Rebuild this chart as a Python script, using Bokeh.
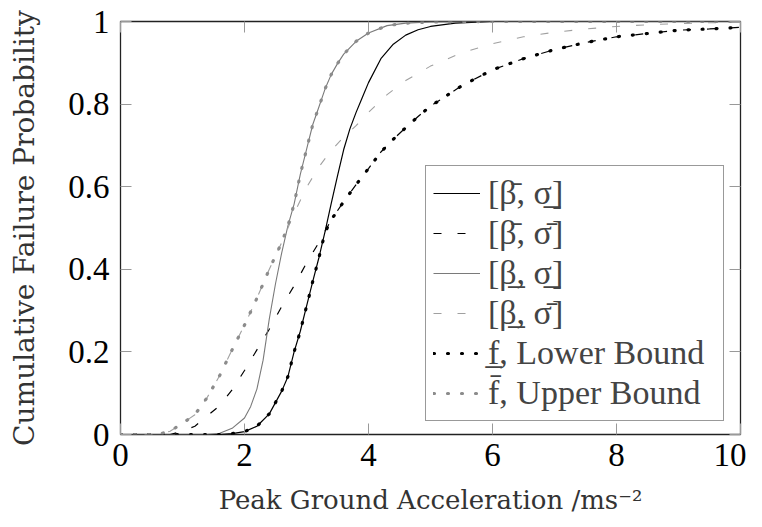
from bokeh.plotting import figure
from bokeh.models import Range1d, LinearAxis, FixedTicker, Legend, LegendItem
from bokeh.embed import file_html
from bokeh.resources import INLINE

# ---- data ----
bs_x = [0, 1.6, 1.8, 2.0, 2.2, 2.4, 2.6, 2.7, 2.8, 2.9, 3.0, 3.1, 3.2, 3.3, 3.4, 3.5, 3.6, 3.7, 3.8, 3.9, 4.0, 4.2, 4.4, 4.6, 4.8, 5.0, 5.4, 6.0, 10]
bs_y = [0, 0.0, 0.002, 0.007, 0.02, 0.05, 0.105, 0.14, 0.2, 0.25, 0.31, 0.37, 0.428, 0.492, 0.56, 0.626, 0.69, 0.74, 0.78, 0.816, 0.852, 0.91, 0.945, 0.967, 0.98, 0.988, 0.996, 1.0, 1.0]

bd_x = [0, 0.8, 1.0, 1.2, 1.4, 1.6, 1.8, 2.0, 2.2, 2.4, 2.6, 2.8, 3.0, 3.2, 3.4, 3.6, 3.8, 4.0, 4.2, 4.4, 4.6, 4.8, 5.0, 5.5, 6.0, 6.5, 7.0, 7.5, 8.0, 8.5, 9.0, 9.5, 10]
bd_y = [0, 0.0, 0.008, 0.02, 0.045, 0.07, 0.108, 0.155, 0.205, 0.255, 0.31, 0.36, 0.415, 0.465, 0.52, 0.564, 0.605, 0.644, 0.684, 0.715, 0.743, 0.77, 0.795, 0.844, 0.883, 0.91, 0.932, 0.949, 0.963, 0.971, 0.979, 0.982, 0.986]

gs_x = [0, 1.4, 1.6, 1.8, 2.0, 2.1, 2.2, 2.3, 2.4, 2.5, 2.6, 2.7, 2.8, 2.9, 3.0, 3.1, 3.2, 3.3, 3.4, 3.5, 3.6, 3.8, 4.0, 4.3, 4.6, 5.0, 6.0, 10]
gs_y = [0, 0.0, 0.003, 0.015, 0.04, 0.068, 0.11, 0.18, 0.28, 0.365, 0.44, 0.505, 0.558, 0.63, 0.69, 0.75, 0.793, 0.837, 0.872, 0.898, 0.921, 0.952, 0.972, 0.99, 0.996, 0.999, 1.0, 1.0]

gd_x = [0, 0.6, 0.8, 1.0, 1.2, 1.4, 1.6, 1.8, 2.0, 2.2, 2.4, 2.6, 2.8, 3.0, 3.2, 3.4, 3.6, 3.8, 4.0, 4.3, 4.6, 5.0, 5.5, 6.0, 6.5, 7.0, 7.5, 8.0, 8.5, 9.0, 9.5, 10]
gd_y = [0, 0.0, 0.008, 0.027, 0.048, 0.09, 0.143, 0.205, 0.265, 0.33, 0.40, 0.465, 0.535, 0.598, 0.648, 0.688, 0.72, 0.748, 0.78, 0.823, 0.857, 0.892, 0.924, 0.946, 0.963, 0.974, 0.982, 0.988, 0.992, 0.995, 0.997, 0.998]

lb_x = [0, 1.6, 1.8, 2.0, 2.2, 2.4, 2.6, 2.7, 2.8, 2.9, 3.0, 3.1, 3.2, 3.3, 3.4, 3.6, 3.8, 4.0, 4.2, 4.4, 4.6, 4.8, 5.0, 5.5, 6.0, 6.5, 7.0, 7.5, 8.0, 8.5, 9.0, 9.5, 10]
lb_y = [0, 0.0, 0.002, 0.007, 0.02, 0.05, 0.105, 0.14, 0.2, 0.25, 0.31, 0.37, 0.428, 0.49, 0.52, 0.564, 0.605, 0.644, 0.684, 0.715, 0.743, 0.77, 0.795, 0.844, 0.883, 0.91, 0.932, 0.949, 0.963, 0.971, 0.979, 0.982, 0.986]

ub_x = [0, 0.6, 0.8, 1.0, 1.2, 1.4, 1.6, 1.8, 2.0, 2.2, 2.4, 2.6, 2.7, 2.8, 2.9, 3.0, 3.1, 3.2, 3.3, 3.4, 3.5, 3.6, 3.8, 4.0, 4.3, 4.6, 5.0, 6.0, 10]
ub_y = [0, 0.0, 0.008, 0.027, 0.048, 0.09, 0.143, 0.205, 0.265, 0.33, 0.40, 0.465, 0.505, 0.558, 0.63, 0.69, 0.75, 0.793, 0.837, 0.872, 0.898, 0.921, 0.952, 0.972, 0.99, 0.996, 0.999, 1.0, 1.0]

labels = ["[\u03b2\u0304, \u03c3\u0332]", "[\u03b2\u0304, \u03c3\u0304]", "[\u03b2\u0332, \u03c3\u0332]",
          "[\u03b2\u0332, \u03c3\u0304]", "f\u0332, Lower Bound", "f\u0304, Upper Bound"]

x_ticks = [0, 2, 4, 6, 8, 10]
y_ticks = [0, 0.2, 0.4, 0.6, 0.8, 1]
y_tick_labels = ["0", "0.2", "0.4", "0.6", "0.8", "1"]

FONT = "Liberation Serif"
LABEL_FONT = "DejaVu Serif"

p = figure(frame_width=620, frame_height=413, output_backend="svg", toolbar_location=None,
           x_range=Range1d(0, 10), y_range=Range1d(0, 1),
           min_border_left=120, min_border_top=21, min_border_right=6, min_border_bottom=80)
p.xgrid.visible = False
p.ygrid.visible = False
p.outline_line_color = "#222222"
p.outline_line_width = 1.3
p.background_fill_color = "white"
p.border_fill_color = "white"

r_bs = p.line(bs_x, bs_y, line_color="black", line_width=1.2)
r_bd = p.line(bd_x, bd_y, line_color="black", line_width=1.2, line_dash="8 16")
r_gs = p.line(gs_x, gs_y, line_color="#7a7a7a", line_width=1.1)
r_gd = p.line(gd_x, gd_y, line_color="#a0a0a0", line_width=1.1, line_dash="8 16")
r_lb = p.line(lb_x, lb_y, line_color="black", line_width=3.2, line_dash="1 13", line_cap="round")
r_ub = p.line(ub_x, ub_y, line_color="#8c8c8c", line_width=3.2, line_dash="1 13", line_cap="round")

for ax in (p.xaxis[0], p.yaxis[0]):
    ax.major_tick_in = 11
    ax.major_tick_out = 0
    ax.minor_tick_line_color = None
    ax.major_tick_line_color = "#999999"
    ax.axis_line_color = None
    ax.major_label_text_font = FONT
    ax.major_label_text_font_size = "33px"
    ax.major_label_text_color = "black"
    ax.axis_label_text_font = LABEL_FONT
    ax.axis_label_text_font_style = "normal"
    ax.axis_label_text_color = "#333333"

p.xaxis[0].ticker = FixedTicker(ticks=x_ticks)
p.yaxis[0].ticker = FixedTicker(ticks=y_ticks)
p.yaxis[0].major_label_overrides = {t: s for t, s in zip(y_ticks, y_tick_labels)}
p.xaxis[0].major_label_standoff = 9
p.yaxis[0].major_label_standoff = 11
p.xaxis[0].axis_label = "Peak Ground Acceleration /ms\u207b\u00b2"
p.yaxis[0].axis_label = "Cumulative Failure Probability"
p.xaxis[0].axis_label_text_font_size = "26px"
p.yaxis[0].axis_label_text_font_size = "28px"
p.xaxis[0].axis_label_standoff = 16
p.yaxis[0].axis_label_standoff = 24

top = LinearAxis(ticker=FixedTicker(ticks=x_ticks))
right = LinearAxis(ticker=FixedTicker(ticks=y_ticks))
for ax in (top, right):
    ax.major_tick_in = 11
    ax.major_tick_out = 0
    ax.minor_tick_line_color = None
    ax.major_tick_line_color = "#999999"
    ax.axis_line_color = None
    ax.major_label_text_color = None
    ax.major_label_text_font_size = "1px"
    ax.major_label_standoff = 0
    ax.axis_label_standoff = 0
p.add_layout(top, "above")
p.add_layout(right, "right")

legend = Legend(items=[LegendItem(label=l, renderers=[r]) for l, r in
                       zip(labels, [r_bs, r_bd, r_gs, r_gd, r_lb, r_ub])],
                location=(305, 13))
legend.label_text_font = FONT
legend.label_text_font_size = "34px"
legend.glyph_width = 47
legend.glyph_height = 40
legend.label_height = 40
legend.label_width = 228
legend.spacing = 0
legend.padding = 7
legend.margin = 0
legend.label_standoff = 8
legend.border_line_color = "#333333"
legend.border_line_width = 1.2
legend.background_fill_alpha = 1.0
p.add_layout(legend, "center")

open("out.html", "w").write(file_html(p, INLINE))
